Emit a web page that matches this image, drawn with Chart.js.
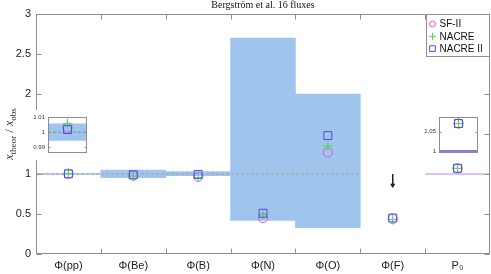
<!DOCTYPE html>
<html><head><meta charset="utf-8">
<script src="https://cdn.jsdelivr.net/npm/chart.js@4/dist/chart.umd.min.js"></script>
<style>
html,body{margin:0;padding:0;background:#fff}
#wrap{position:relative;width:491px;height:274px;overflow:hidden}
canvas{position:absolute;display:block}
#main{left:0;top:0}
#inL{left:24px;top:110px;background:#fff}
#inR{left:410px;top:110px;background:#fff}
</style></head>
<body><div id="wrap">
<canvas id="main" width="491" height="274"></canvas>
<canvas id="inL" width="66" height="50"></canvas>
<canvas id="inR" width="72" height="50"></canvas>
</div>
<script>
// ---- data ----
const categories = ['Φ(pp)','Φ(Be)','Φ(B)','Φ(N)','Φ(O)','Φ(F)','P₀'];
const bandLow  = [0.9945, 0.955, 0.98, 0.42, 0.33, null, null];
const bandHigh = [1.0055, 1.05, 1.03, 2.70, 2.00, null, null];
const sf2      = [1.003, 0.98, 0.967, 0.45, 1.27, 0.44, 1.071];
const nacre    = [1.0055, 0.975, 0.955, 0.49, 1.35, 0.43, 1.071];
const nacre2   = [1.0017, 0.99, 0.995, 0.51, 1.48, 0.45, 1.071];
const yTicks = [0, 0.5, 1, 1.5, 2, 2.5, 3];
const yTickLabels = ['0', '0.5', '1', '', '2', '2.5', '3'];   // 1.5 label hidden behind inset in the reference
const refValue = 1;
const limitCategory = 5;          // Φ(F): upper limit arrow
const limitFrom = 1, limitTo = 0.86;
const p0Observed = 1;
const ppInsetRange = [0.986, 1.01];
const ppInsetTicks = [0.99, 1, 1.01];
const p0InsetRange = [0.9935, 1.088];
const p0InsetTicks = [1, 1.05];
const seriesNames = ['SF-II', 'NACRE', 'NACRE II'];
const titleText = 'Bergström et al. 16 fluxes';

// ---- styles ----
const BAND = '#9fc5ec';
const C_SF = '#e44fe4', C_NA = '#3fe03f', C_N2 = '#4b4bf0';
const FRAME = '#8e8e8e';
const TICKFONT = "'Liberation Sans', Arial, sans-serif";

function markerSets(vals, xs, r){
  const mk = (label, arr, color, style, rad) => ({
    type:'scatter', label, data: xs.map((x,k)=>({x, y:arr[k]})),
    pointStyle: style, pointRadius: rad, borderColor: color, pointBorderColor: color,
    backgroundColor:'rgba(0,0,0,0)', pointBackgroundColor:'rgba(0,0,0,0)', pointBorderWidth:1, showLine:false
  });
  return [
    Object.assign(mk(seriesNames[0], vals[0], C_SF, 'circle', 4.6*r), {order:3}),
    Object.assign(mk(seriesNames[1], vals[1], C_NA, 'cross', 5*r), {order:2}),
    Object.assign(mk(seriesNames[2], vals[2], C_N2, 'rect', 5.6*r), {order:1})
  ];
}

const frameTicks = {
  id:'frameTicks',
  afterDatasetsDraw(chart, args, o){
    const {ctx, chartArea:a, scales} = chart;
    ctx.save();
    ctx.strokeStyle = o.color; ctx.lineWidth = 1;
    const L = Math.round(a.left)+0.5, R = Math.round(a.right)-0.5, T = Math.round(a.top)+0.5, B = Math.round(a.bottom)-0.5;
    ctx.strokeRect(L, T, R-L, B-T);
    ctx.beginPath();
    if (o.yLen) scales.y.ticks.forEach(t=>{
      const py = Math.round(scales.y.getPixelForValue(t.value))+0.5;
      ctx.moveTo(L, py); ctx.lineTo(L+o.yLen, py);
      ctx.moveTo(R, py); ctx.lineTo(R-o.yLen, py);
    });
    if (o.xLen && o.xBounds) o.xBounds.forEach(v=>{
      const px = Math.round(scales.x.getPixelForValue(v))+0.5;
      ctx.moveTo(px, B); ctx.lineTo(px, B-o.xLen);
      ctx.moveTo(px, T); ctx.lineTo(px, T+o.xLen);
    });
    ctx.stroke();
    ctx.restore();
  }
};

const decorations = {
  id:'decorations',
  afterDraw(chart){
    const {ctx, chartArea:a} = chart;
    ctx.save();
    ctx.fillStyle = '#111';
    ctx.font = "10px 'Liberation Serif', 'DejaVu Serif', serif";
    ctx.textAlign = 'center'; ctx.textBaseline = 'alphabetic';
    ctx.fillText(titleText, (a.left+a.right)/2, 8);
    const big = "italic 12px 'Liberation Serif', serif";
    const small = "9px 'Liberation Serif', serif";
    const slash = "13px 'Liberation Serif', serif";
    const parts = [[big,'x',0],[small,'theor',3],[slash,' /',0],[big,' x',0],[small,'obs',3]];
    let total = 0;
    parts.forEach(p=>{ctx.font=p[0]; p.w = ctx.measureText(p[1]).width; total += p.w;});
    ctx.translate(13, (a.top+a.bottom)/2);
    ctx.rotate(-Math.PI/2);
    ctx.textAlign='left';
    ctx.fillStyle = '#333';
    let cx = -total/2;
    parts.forEach(p=>{ctx.font=p[0]; ctx.fillText(p[1], cx, p[2]); cx += p.w;});
    ctx.restore();

    ctx.save();
    const lx0 = a.right - 64, ly0 = a.top, lw = 64, lh = 43;
    ctx.fillStyle = '#fff'; ctx.fillRect(lx0, ly0, lw, lh);
    ctx.strokeStyle = FRAME; ctx.lineWidth = 1;
    ctx.strokeRect(Math.round(lx0)+0.5, Math.round(ly0)+0.5, lw-1, lh-1);
    const ds = chart.data.datasets.filter(d=>seriesNames.includes(d.label));
    ctx.font = "10px " + TICKFONT; ctx.textBaseline='middle'; ctx.textAlign='left';
    ds.forEach((d,k)=>{
      const yy = ly0 + 10 + k*12.3;
      const xx = lx0 + 6.5;
      ctx.strokeStyle = d.borderColor; ctx.fillStyle = 'rgba(0,0,0,0)'; ctx.lineWidth = 1;
      Chart.helpers.drawPoint(ctx, {pointStyle:d.pointStyle, radius: d.pointStyle==='rect'?4:(d.pointStyle==='cross'?3.5:2.9), rotation:0, borderWidth:1}, xx, yy);
      ctx.fillStyle = '#111';
      ctx.fillText(d.label, lx0 + 13.5, yy + 0.5);
    });
    ctx.restore();
  }
};

const xs = categories.map((c,i)=>i+1);
const n = categories.length;

const mainData = {
  datasets: [
    {type:'bar', label:'band', data: xs.map((x,i)=> bandLow[i]==null?null:{x, y:[bandLow[i], bandHigh[i]]}).filter(d=>d),
     backgroundColor: BAND, borderWidth:0, categoryPercentage:1, barPercentage:1, grouped:false, order:10},
    {type:'scatter', label:'ref', data:[{x:0.5, y:refValue},{x:n-1.5, y:refValue}], showLine:true,
     borderColor:'#a3a3a3', borderDash:[3,2], borderWidth:1, pointRadius:0, order:9},
    {type:'scatter', label:'p0obs', data:[{x:n-0.5, y:p0Observed},{x:n+0.5, y:p0Observed}], showLine:true,
     borderColor:'#b785f3', borderWidth:1, pointRadius:0, order:8},
    {type:'scatter', label:'limit', data:[{x:limitCategory+1, y:limitFrom},{x:limitCategory+1, y:limitTo}], showLine:true,
     borderColor:'#222', borderWidth:1, pointRadius:[0,2.2], pointStyle:'triangle', rotation:180,
     pointBackgroundColor:'#222', pointBorderColor:'#222', order:7},
    ...markerSets([sf2, nacre, nacre2], xs, 1)
  ]
};

new Chart(document.getElementById('main'), {
  type:'scatter',
  data: mainData,
  options:{
    responsive:false, animation:false, devicePixelRatio:1, events:[],
    layout:{autoPadding:false, padding:{top:14, right:1, left:0, bottom:0}},
    plugins:{legend:{display:false}, tooltip:{enabled:false},
      frameTicks:{color:FRAME, yLen:5, xLen:5, xBounds: xs.slice(0,-1).map(x=>x+0.5)}},
    scales:{
      x:{type:'linear', min:0.5, max:n+0.5, offset:false,
         afterBuildTicks(s){ s.ticks = xs.map(v=>({value:v})); },
         afterFit(s){ s.height = 20; s.paddingRight = 0; s.paddingLeft = 0; },
         grid:{display:false, drawTicks:false}, border:{display:false},
         ticks:{padding:5, autoSkip:false, maxRotation:0, color:'#1a1a1a', font:{family:TICKFONT, size:11},
                callback:(v)=>categories[Math.round(v)-1]}},
      y:{type:'linear', min:yTicks[0], max:yTicks[yTicks.length-1],
         afterBuildTicks(s){ s.ticks = yTicks.map(v=>({value:v})); },
         afterFit(s){ s.width = 36; },
         grid:{display:false, drawTicks:false}, border:{display:false},
         ticks:{padding:5, color:'#1a1a1a', font:{family:TICKFONT, size:11},
                callback:(v)=>{ const k = yTicks.indexOf(v); return k>=0 ? yTickLabels[k] : ''; }}}
    }
  },
  plugins:[frameTicks, decorations]
});

function inset(id, idx, range, ticks, padL, padR, withBand, withRef, lineColor){
  const ds = [];
  if (withBand) ds.push({type:'bar', data:[{x:1, y:[bandLow[idx], bandHigh[idx]]}], backgroundColor:BAND, borderWidth:0,
    categoryPercentage:1, barPercentage:1, grouped:false, order:10});
  if (withRef) ds.push({type:'scatter', data:[{x:0.5,y:refValue},{x:1.5,y:refValue}], showLine:true, borderColor:'#8a8a8a',
    borderDash:[3,2], borderWidth:1, pointRadius:0, order:9});
  if (lineColor) ds.push({type:'scatter', data:[{x:0.5,y:p0Observed},{x:1.5,y:p0Observed}], showLine:true, borderColor:lineColor,
    borderWidth:1.5, pointRadius:0, order:9});
  ds.push(...markerSets([[sf2[idx]],[nacre[idx]],[nacre2[idx]]], [1], 1));
  new Chart(document.getElementById(id), {
    type:'scatter', data:{datasets:ds},
    options:{
      responsive:false, animation:false, devicePixelRatio:1, events:[],
      layout:{autoPadding:false, padding:{top:7, right:padR, bottom:3, left:0}},
      plugins:{legend:{display:false}, tooltip:{enabled:false}, frameTicks:{color:FRAME, yLen:2, xLen:2, xBounds:[]}},
      scales:{
        x:{type:'linear', display:false, min:0.5, max:1.5, offset:false,
           afterBuildTicks(s){ s.ticks=[{value:1}]; }},
        y:{type:'linear', min:range[0], max:range[1],
           afterBuildTicks(s){ s.ticks = ticks.map(v=>({value:v})); },
           afterFit(s){ s.width = padL; },
           grid:{display:false, drawTicks:false}, border:{display:false},
           ticks:{padding:3, color:'#333', font:{family:TICKFONT, size:6}, callback:(v)=>String(v)}}
      }
    },
    plugins:[frameTicks]
  });
}
inset('inL', 0, ppInsetRange, ppInsetTicks, 24, 3, true, true, null);
inset('inR', n-1, p0InsetRange, p0InsetTicks, 29, 4, false, false, '#7444d4');
</script>
</body></html>
